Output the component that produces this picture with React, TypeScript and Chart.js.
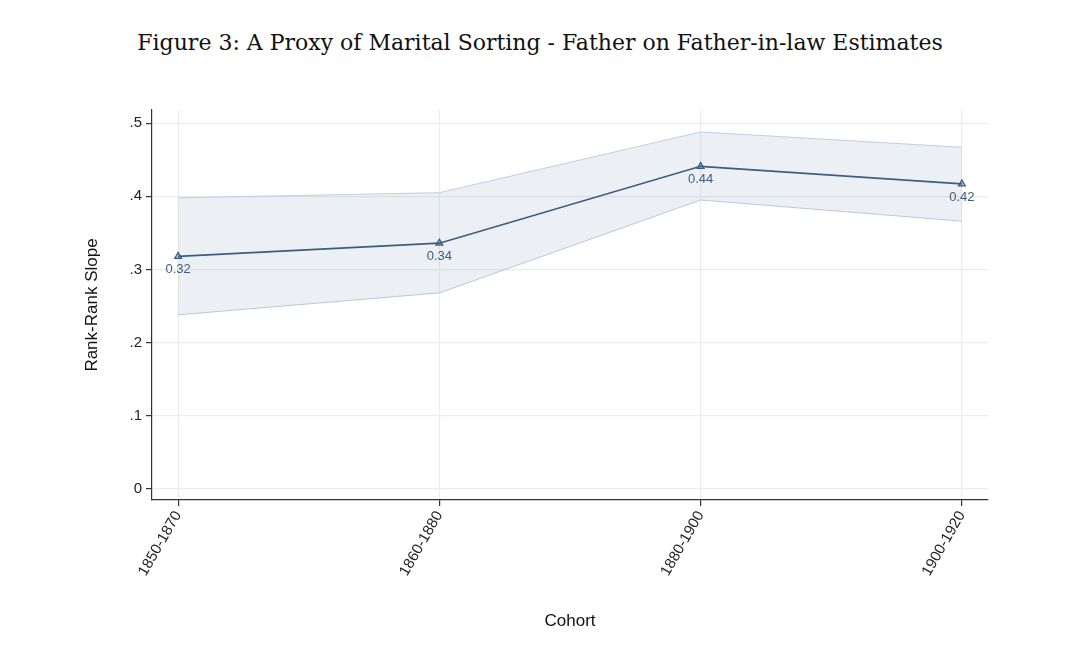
import React, { useEffect, useRef } from "react";
import { Chart, registerables } from "chart.js";
Chart.register(...registerables);

const cohorts = ["1850-1870", "1860-1880", "1880-1900", "1900-1920"];
const estimates = [0.318, 0.336, 0.441, 0.417];
const pointLabels = ["0.32", "0.34", "0.44", "0.42"];
const ciUpper = [0.398, 0.405, 0.488, 0.467];
const ciLower = [0.238, 0.268, 0.395, 0.366];
const yTicks = [0, 0.1, 0.2, 0.3, 0.4, 0.5];
const yTickLabels = ["0", ".1", ".2", ".3", ".4", ".5"];

const FONT = "'Liberation Sans', Arial, sans-serif";
const LINE = "#3b5d7f";

export default function App() {
  const ref = useRef<HTMLCanvasElement>(null);
  useEffect(() => {
    const pts = (arr: number[]) => arr.map((v, i) => ({ x: i, y: v }));
    const labelPlugin = {
      id: "ptLabels",
      afterDatasetsDraw(chart: any) {
        const meta = chart.getDatasetMeta(2);
        const ctx = chart.ctx;
        ctx.save();
        ctx.fillStyle = LINE;
        ctx.font = `13px ${FONT}`;
        ctx.textAlign = "center";
        ctx.textBaseline = "top";
        meta.data.forEach((p: any, i: number) => ctx.fillText(pointLabels[i], p.x, p.y + 7));
        ctx.restore();
      },
    };
    const chart = new Chart(ref.current!, {
      type: "line",
      data: {
        datasets: [
          { data: pts(ciUpper), borderColor: "rgba(190,202,215,0.9)", borderWidth: 1, pointRadius: 0, fill: "+1", backgroundColor: "rgba(70,100,140,0.1)" },
          { data: pts(ciLower), borderColor: "rgba(190,202,215,0.9)", borderWidth: 1, pointRadius: 0, fill: false },
          { data: pts(estimates), borderColor: LINE, borderWidth: 1.6, pointStyle: "triangle", pointRadius: 4, pointBackgroundColor: "rgba(59,93,127,0.35)", pointBorderColor: LINE, pointBorderWidth: 1.2, fill: false },
        ],
      },
      options: {
        animation: false,
        responsive: false,
        layout: { padding: { top: 110, left: 82, right: 92, bottom: 20 } },
        plugins: { legend: { display: false }, tooltip: { enabled: false } },
        scales: {
          x: {
            type: "linear",
            min: -0.1,
            max: 3.1,
            afterBuildTicks: (s: any) => { s.ticks = [0, 1, 2, 3].map((v) => ({ value: v })); },
            afterFit: (s: any) => { s.height = 132; },
            ticks: { callback: (v: any) => cohorts[v], minRotation: 60, maxRotation: 60, autoSkip: false, color: "#222", font: { family: FONT, size: 15 }, padding: 2 },
            grid: { color: "#ececec", borderDash: [6, 4], tickBorderDash: [], tickColor: "#333", tickLength: 6, lineWidth: 1.2 } as any,
            border: { color: "#333", width: 1.2, dash: [] } as any,
            title: { display: true, text: "Cohort", color: "#111", font: { family: FONT, size: 17 }, padding: { top: 0, bottom: 0 } },
          },
          y: {
            min: -0.015,
            max: 0.518,
            afterBuildTicks: (s: any) => { s.ticks = yTicks.map((v) => ({ value: v })); },
            afterFit: (s: any) => { s.width = 70; },
            ticks: { callback: (v: any) => yTickLabels[yTicks.indexOf(v)] ?? "", color: "#222", font: { family: FONT, size: 15 }, padding: 4 },
            grid: { color: "#ececec", borderDash: [6, 4], tickBorderDash: [], tickColor: "#333", tickLength: 6, lineWidth: 1.2 } as any,
            border: { color: "#333", width: 1.2 } as any,
            title: { display: true, text: "Rank-Rank Slope", color: "#111", font: { family: FONT, size: 17 }, padding: { top: 0, bottom: 0 } },
          },
        },
      },
      plugins: [labelPlugin],
    } as any);
    return () => chart.destroy();
  }, []);
  return (
    <div style={{ position: "absolute", left: 0, top: 0, width: 1080, height: 652, background: "#fff" }}>
      <div style={{ position: "absolute", top: 30, left: 0, width: 1080, textAlign: "center", fontFamily: "'DejaVu Serif', 'Liberation Serif', serif", fontSize: 22, color: "#111" }}>
        Figure 3: A Proxy of Marital Sorting - Father on Father-in-law Estimates
      </div>
      <canvas ref={ref} width={1080} height={652} style={{ position: "absolute", left: 0, top: 0 }} />
    </div>
  );
}
